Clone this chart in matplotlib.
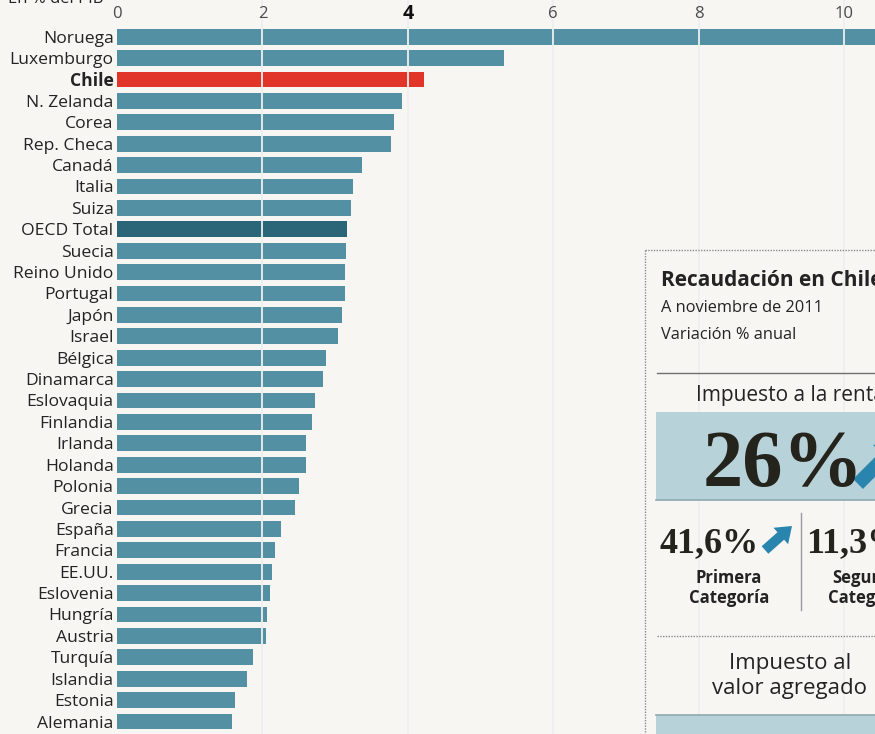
import matplotlib
matplotlib.use("Agg")
import matplotlib.pyplot as plt
import matplotlib.transforms as mtransforms
from matplotlib.patches import Rectangle, FancyArrow
from matplotlib.lines import Line2D

# ---------------- data ----------------
countries = ["Noruega", "Luxemburgo", "Chile", "N. Zelanda", "Corea", "Rep. Checa",
             "Canadá", "Italia", "Suiza", "OECD Total", "Suecia", "Reino Unido",
             "Portugal", "Japón", "Israel", "Bélgica", "Dinamarca", "Eslovaquia",
             "Finlandia", "Irlanda", "Holanda", "Polonia", "Grecia", "España",
             "Francia", "EE.UU.", "Eslovenia", "Hungría", "Austria", "Turquía",
             "Islandia", "Estonia", "Alemania"]
values = [10.9, 5.32, 4.22, 3.92, 3.81, 3.77,
          3.37, 3.24, 3.22, 3.16, 3.15, 3.13,
          3.13, 3.09, 3.04, 2.88, 2.83, 2.72,
          2.68, 2.60, 2.60, 2.50, 2.45, 2.25,
          2.17, 2.13, 2.10, 2.06, 2.05, 1.87,
          1.79, 1.62, 1.58]
x_ticks = [0, 2, 4, 6, 8, 10]
unit_label = "En % del PIB"

panel_title = "Recaudación en Chile"
panel_sub = ["A noviembre de 2011", "Variación % anual"]
renta_label = "Impuesto a la renta"
renta_total = "26%"
cat_values = ["41,6%", "11,3%"]
cat_labels = ["Primera\nCategoría", "Segunda\nCategoría"]
iva_label = "Impuesto al\nvalor agregado"

# ---------------- style ----------------
W, H = 875, 734
BG = "#f7f6f3"
BAR = "#5390a3"
OECD = "#2b6678"
CHILE = "#e2352a"
TXT = "#232323"
FONT = "Open Sans"

fig = plt.figure(figsize=(W / 100, H / 100), dpi=100, facecolor=BG)
PX = mtransforms.Affine2D().scale(1 / 100, -1 / 100).translate(0, H / 100) + fig.dpi_scale_trans

# bar axes: value 0 at x=117px, right edge 875px ; row0 at y=36.7px, spacing 21.4px
x0, ppu = 117, 72.7
row0, sp = 36.7, 21.4
ax = fig.add_axes([x0 / W, 0, (W - x0) / W, 1])
ax.set_facecolor("none")
ax.set_xlim(0, (W - x0) / ppu)
ax.set_ylim((H - row0) / sp, -row0 / sp)

colors = []
for c in countries:
    if c == "Chile":
        colors.append(CHILE)
    elif c == "OECD Total":
        colors.append(OECD)
    else:
        colors.append(BAR)
ypos = list(range(len(countries)))
ax.barh(ypos, values, height=0.74, color=colors, zorder=2)
for t in x_ticks[1:]:
    ax.axvline(t, color="#eef0ef", lw=1.3, zorder=3)

ax.set_yticks(ypos)
ax.set_yticklabels(countries, fontsize=12.6, family=FONT, color=TXT)
for lab in ax.get_yticklabels():
    if lab.get_text() == "Chile":
        lab.set_fontweight("bold")
ax.tick_params(axis="y", length=0, pad=2.5)
ax.set_xticks([])
for s in ax.spines.values():
    s.set_visible(False)

for t in x_ticks:
    bold = (t == 4)
    ax.text(t, -1.07, str(t), ha="center", va="center",
            fontsize=14 if bold else 12, family=FONT,
            fontweight="bold" if bold else "normal",
            color="#111111" if bold else "#4a4a4a", clip_on=False)

fig.text(8, 3, unit_label, transform=PX, ha="left", va="baseline",
         fontsize=12, family=FONT, color=TXT)

# ---------------- right panel ----------------
def hline(x1, x2, y, **kw):
    fig.add_artist(Line2D([x1, x2], [y, y], transform=PX, **kw))

def vline(x, y1, y2, **kw):
    fig.add_artist(Line2D([x, x], [y1, y2], transform=PX, **kw))

vline(645, 250, 734, color="#8a8a8a", lw=1, ls=(0, (1, 1)))
hline(645, 875, 250, color="#8a8a8a", lw=1, ls=(0, (1, 1)))

fig.text(661, 281, panel_title, transform=PX, ha="left", va="center",
         fontsize=15, fontweight="bold", family=FONT, color=TXT)
fig.text(661, 308, panel_sub[0], transform=PX, ha="left", va="center",
         fontsize=11.8, family=FONT, color=TXT)
fig.text(661, 335, panel_sub[1], transform=PX, ha="left", va="center",
         fontsize=11.8, family=FONT, color=TXT)
hline(657, 875, 373, color="#6f6f6f", lw=1)

cx = 790
fig.text(cx, 395, renta_label, transform=PX, ha="center", va="center",
         fontsize=15, family=FONT, color=TXT)
fig.add_artist(Rectangle((656, 412), 240, 88, transform=PX, facecolor="#b8d2da",
                         edgecolor="none"))
hline(656, 875, 500, color="#8fa9b0", lw=1.2)
fig.text(703, 486, renta_total, transform=PX, ha="left", va="baseline",
         fontsize=58, fontweight="bold", family="Liberation Serif", color="#24241d")
fig.add_artist(FancyArrow(858, 484, 44, -44, width=14, head_width=34, head_length=24,
                          length_includes_head=True, transform=PX,
                          facecolor="#2a85ae", edgecolor="none"))

# categories
fig.text(660, 552, cat_values[0], transform=PX, ha="left", va="baseline",
         fontsize=26, fontweight="bold", family="Liberation Serif", color="#24241d")
fig.add_artist(FancyArrow(765, 550, 27, -24, width=10, head_width=22, head_length=15,
                          length_includes_head=True, transform=PX,
                          facecolor="#2a85ae", edgecolor="none"))
fig.text(806, 552, cat_values[1], transform=PX, ha="left", va="baseline",
         fontsize=26, fontweight="bold", family="Liberation Serif", color="#24241d")
vline(801, 513, 610, color="#9a9a9a", lw=1)
fig.text(729, 588, cat_labels[0], transform=PX, ha="center", va="center",
         fontsize=12, fontweight="bold", family=FONT, color=TXT, linespacing=1.2)
fig.text(868, 588, cat_labels[1], transform=PX, ha="center", va="center",
         fontsize=12, fontweight="bold", family=FONT, color=TXT, linespacing=1.2)

hline(657, 875, 636, color="#8a8a8a", lw=1, ls=(0, (1, 1)))
fig.text(cx, 676, iva_label, transform=PX, ha="center", va="center",
         fontsize=16, family=FONT, color=TXT, linespacing=1.2)
fig.add_artist(Rectangle((656, 715), 240, 40, transform=PX, facecolor="#b8d2da",
                         edgecolor="none"))
hline(656, 875, 715, color="#8fa9b0", lw=1.2)

fig.savefig("out.png", dpi=100, facecolor=BG)
